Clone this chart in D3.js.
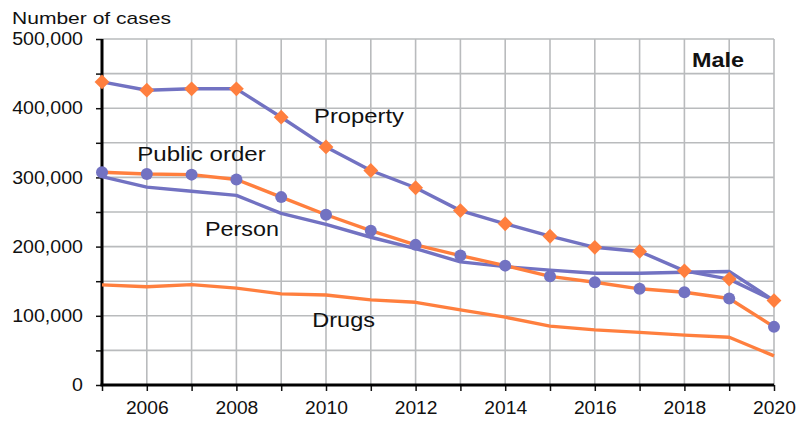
<!DOCTYPE html>
<html lang="en">
  <head>
    <meta charset="UTF-8">
    <script src="https://cdn.jsdelivr.net/npm/d3@7/dist/d3.min.js"></script>
    <title>Number of cases - Male</title>
    <style>
    body { margin: 0; background: #fff; }
    text { font-family: "Liberation Sans", Arial, sans-serif; fill: #111; }
    </style>
  </head>
  <body>
    <div id="chart"></div>
    <script>

// Data (number of cases, male)
const years       = d3.range(2005, 2021);
const property    = [438000, 426000, 428000, 428000, 387000, 344000, 310000, 285000, 252000, 233000, 215000, 199000, 193000, 165000, 153000, 122000];
const publicOrder = [307500, 305000, 304000, 297000, 271500, 246000, 223000, 202500, 187000, 172500, 157000, 148500, 139000, 134000, 125000, 84000];
const person      = [301000, 286000, 280000, 274000, 248000, 232000, 213500, 197000, 178000, 171000, 166000, 161500, 161500, 163000, 164000, 122000];
const drugs       = [144700, 142000, 145000, 140000, 131700, 130000, 123000, 119500, 108500, 98000, 85000, 79600, 76000, 72000, 69000, 42000];

const seriesLabels = ["Property", "Public order", "Person", "Drugs"];

const width  = 811;
const height = 421;

const purple = "#7272c2";
const orange = "#ff7f3e";

// The original type is set a little wider than Liberation Sans
function stretch(sel, k) {
  sel.each(function() {
    const len = this.getComputedTextLength();
    if (len > 0) d3.select(this).attr("textLength", len * k).attr("lengthAdjust", "spacingAndGlyphs");
  });
}

const svg = d3
  .select("#chart")
  .append("svg")
  .attr("width",  width)
  .attr("height", height)
  .attr("viewBox", [0, 0, width, height]);

const x = d3.scaleLinear().domain([2005, 2020]).range([102, 774]);
const y = d3.scaleLinear().domain([0, 500000]).range([385, 39]);

// Grid
const grid = svg.append("g")
  .attr("stroke", "#b9bbbd")
  .attr("stroke-width", 1.6);

grid.selectAll(".v")
  .data(years.slice(1))
  .join("line")
    .attr("x1", d => x(d)).attr("x2", d => x(d))
    .attr("y1", y(0)).attr("y2", y(500000));

grid.selectAll(".h")
  .data(d3.range(50000, 500001, 50000))
  .join("line")
    .attr("x1", x(2005)).attr("x2", x(2020))
    .attr("y1", d => y(d)).attr("y2", d => y(d));

// Axes
const yAxis = d3.axisLeft(y)
  .tickValues(d3.range(0, 500001, 50000))
  .tickSize(6)
  .tickPadding(13)
  .tickFormat(d => d % 100000 === 0 ? d3.format(",")(d) : "");

const xAxis = d3.axisBottom(x)
  .tickValues(years)
  .tickSize(6)
  .tickPadding(10.5)
  .tickFormat(d => d % 2 === 0 ? String(d) : "");

svg.append("g")
  .attr("transform", `translate(${x(2005)},0)`)
  .call(yAxis)
  .call(g => g.select(".domain").remove())
  .call(g => g.selectAll(".tick line").attr("stroke", "#111").attr("stroke-width", 1.5))
  .call(g => g.selectAll(".tick text").attr("font-size", 17.5).attr("fill", "#111"))
  .call(g => stretch(g.selectAll(".tick text"), 1.12));

svg.append("g")
  .attr("transform", `translate(0,${y(0)})`)
  .call(xAxis)
  .call(g => g.select(".domain").remove())
  .call(g => g.selectAll(".tick line").attr("stroke", "#111").attr("stroke-width", 1.5))
  .call(g => g.selectAll(".tick text").attr("font-size", 17.5).attr("fill", "#111"))
  .call(g => stretch(g.selectAll(".tick text"), 1.1));

svg.append("line")
  .attr("x1", x(2005)).attr("x2", x(2005))
  .attr("y1", y(0) + 1).attr("y2", y(500000))
  .attr("stroke", "#000").attr("stroke-width", 3);

svg.append("line")
  .attr("x1", x(2005) - 1.5).attr("x2", x(2020))
  .attr("y1", y(0)).attr("y2", y(0))
  .attr("stroke", "#000").attr("stroke-width", 3);

// Lines
const line = d3.line()
  .x((d, i) => x(years[i]))
  .y(d => y(d));

const series = [
  { values: drugs,       stroke: orange },
  { values: person,      stroke: purple },
  { values: publicOrder, stroke: orange },
  { values: property,    stroke: purple }
];

svg.append("g")
  .attr("fill", "none")
  .attr("stroke-width", 3.4)
  .attr("stroke-linejoin", "round")
  .selectAll("path")
  .data(series)
  .join("path")
    .attr("stroke", d => d.stroke)
    .attr("d", d => line(d.values));

// Markers
svg.append("g")
  .selectAll("circle")
  .data(publicOrder)
  .join("circle")
    .attr("cx", (d, i) => x(years[i]))
    .attr("cy", d => y(d))
    .attr("r", 6)
    .attr("fill", purple);

svg.append("g")
  .selectAll("path")
  .data(property)
  .join("path")
    .attr("transform", (d, i) => `translate(${x(years[i])},${y(d)}) rotate(45)`)
    .attr("d", d3.symbol().type(d3.symbolSquare).size(110))
    .attr("fill", orange);

// Labels
svg.append("text")
  .attr("x", 12).attr("y", 23.5)
  .attr("font-size", 17)
  .attr("textLength", 159)
  .attr("lengthAdjust", "spacingAndGlyphs")
  .text("Number of cases");

svg.append("text")
  .attr("x", 692).attr("y", 66.5)
  .attr("font-size", 21)
  .attr("font-weight", "bold")
  .attr("textLength", 52)
  .attr("lengthAdjust", "spacingAndGlyphs")
  .text("Male");

const labelPos = [
  [314, 123.3, 90],
  [137.3, 160.7, 128.4],
  [205, 235.7, 74],
  [312.3, 326.7, 62.7]
];

svg.append("g")
  .selectAll("text")
  .data(seriesLabels)
  .join("text")
    .attr("x", (d, i) => labelPos[i][0])
    .attr("y", (d, i) => labelPos[i][1])
    .attr("font-size", 21)
    .attr("textLength", (d, i) => labelPos[i][2])
    .attr("lengthAdjust", "spacingAndGlyphs")
    .text(d => d);

    </script>
  </body>
</html>
